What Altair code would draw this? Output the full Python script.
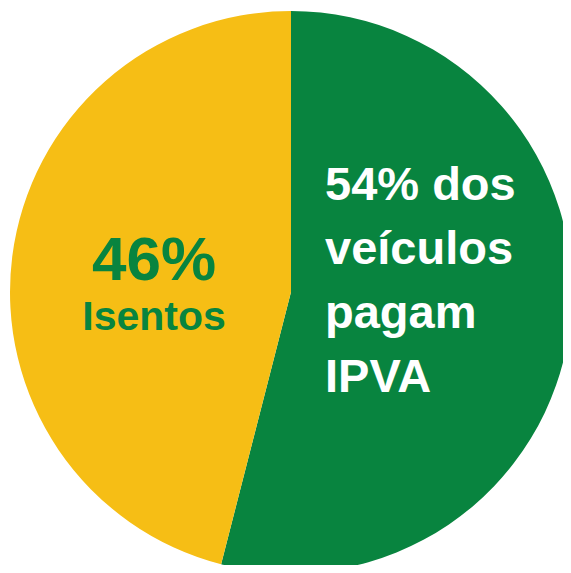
import altair as alt
import pandas as pd

categories = ["Pagam IPVA", "Isentos"]
values = [54, 46]
orders = [1, 2]
colors = ["#08843F", "#F6BE15"]

left_lines = ["46%", "Isentos"]
right_text = ["54% dos", "veículos", "pagam", "IPVA"]

df = pd.DataFrame({"cat": categories, "val": values, "ord": orders})

W, H = 555, 557
CX, CY, R = 283, 284, 281

pie = alt.Chart(df).mark_arc(outerRadius=R, stroke=None).encode(
    theta=alt.Theta("val:Q", stack=True),
    order=alt.Order("ord:Q"),
    color=alt.Color("cat:N", scale=alt.Scale(domain=categories, range=colors), legend=None),
    x=alt.value(CX),
    y=alt.value(CY),
)

big = alt.Chart(pd.DataFrame({"t": [left_lines[0]]})).mark_text(
    font="Liberation Sans", fontWeight="bold", fontSize=62, color="#08843F",
    align="center", baseline="alphabetic",
).encode(text="t:N", x=alt.value(146), y=alt.value(272))

small = alt.Chart(pd.DataFrame({"t": [left_lines[1]]})).mark_text(
    font="Liberation Sans", fontWeight="bold", fontSize=41, color="#08843F",
    align="center", baseline="alphabetic",
).encode(text="t:N", x=alt.value(146), y=alt.value(322))

right = alt.Chart(pd.DataFrame({"t": ["\n".join(right_text)]})).mark_text(
    font="Liberation Sans", fontWeight="bold", fontSize=47, color="white",
    align="left", baseline="alphabetic", lineBreak="\n", lineHeight=64,
).encode(text="t:N", x=alt.value(317), y=alt.value(192))

chart = alt.layer(pie, big, small, right).properties(
    width=W, height=H, autosize=alt.AutoSizeParams(type="none"), padding=0,
).configure_view(strokeWidth=0)

chart.save("out.html", embed_options={"renderer": "svg", "actions": False})
